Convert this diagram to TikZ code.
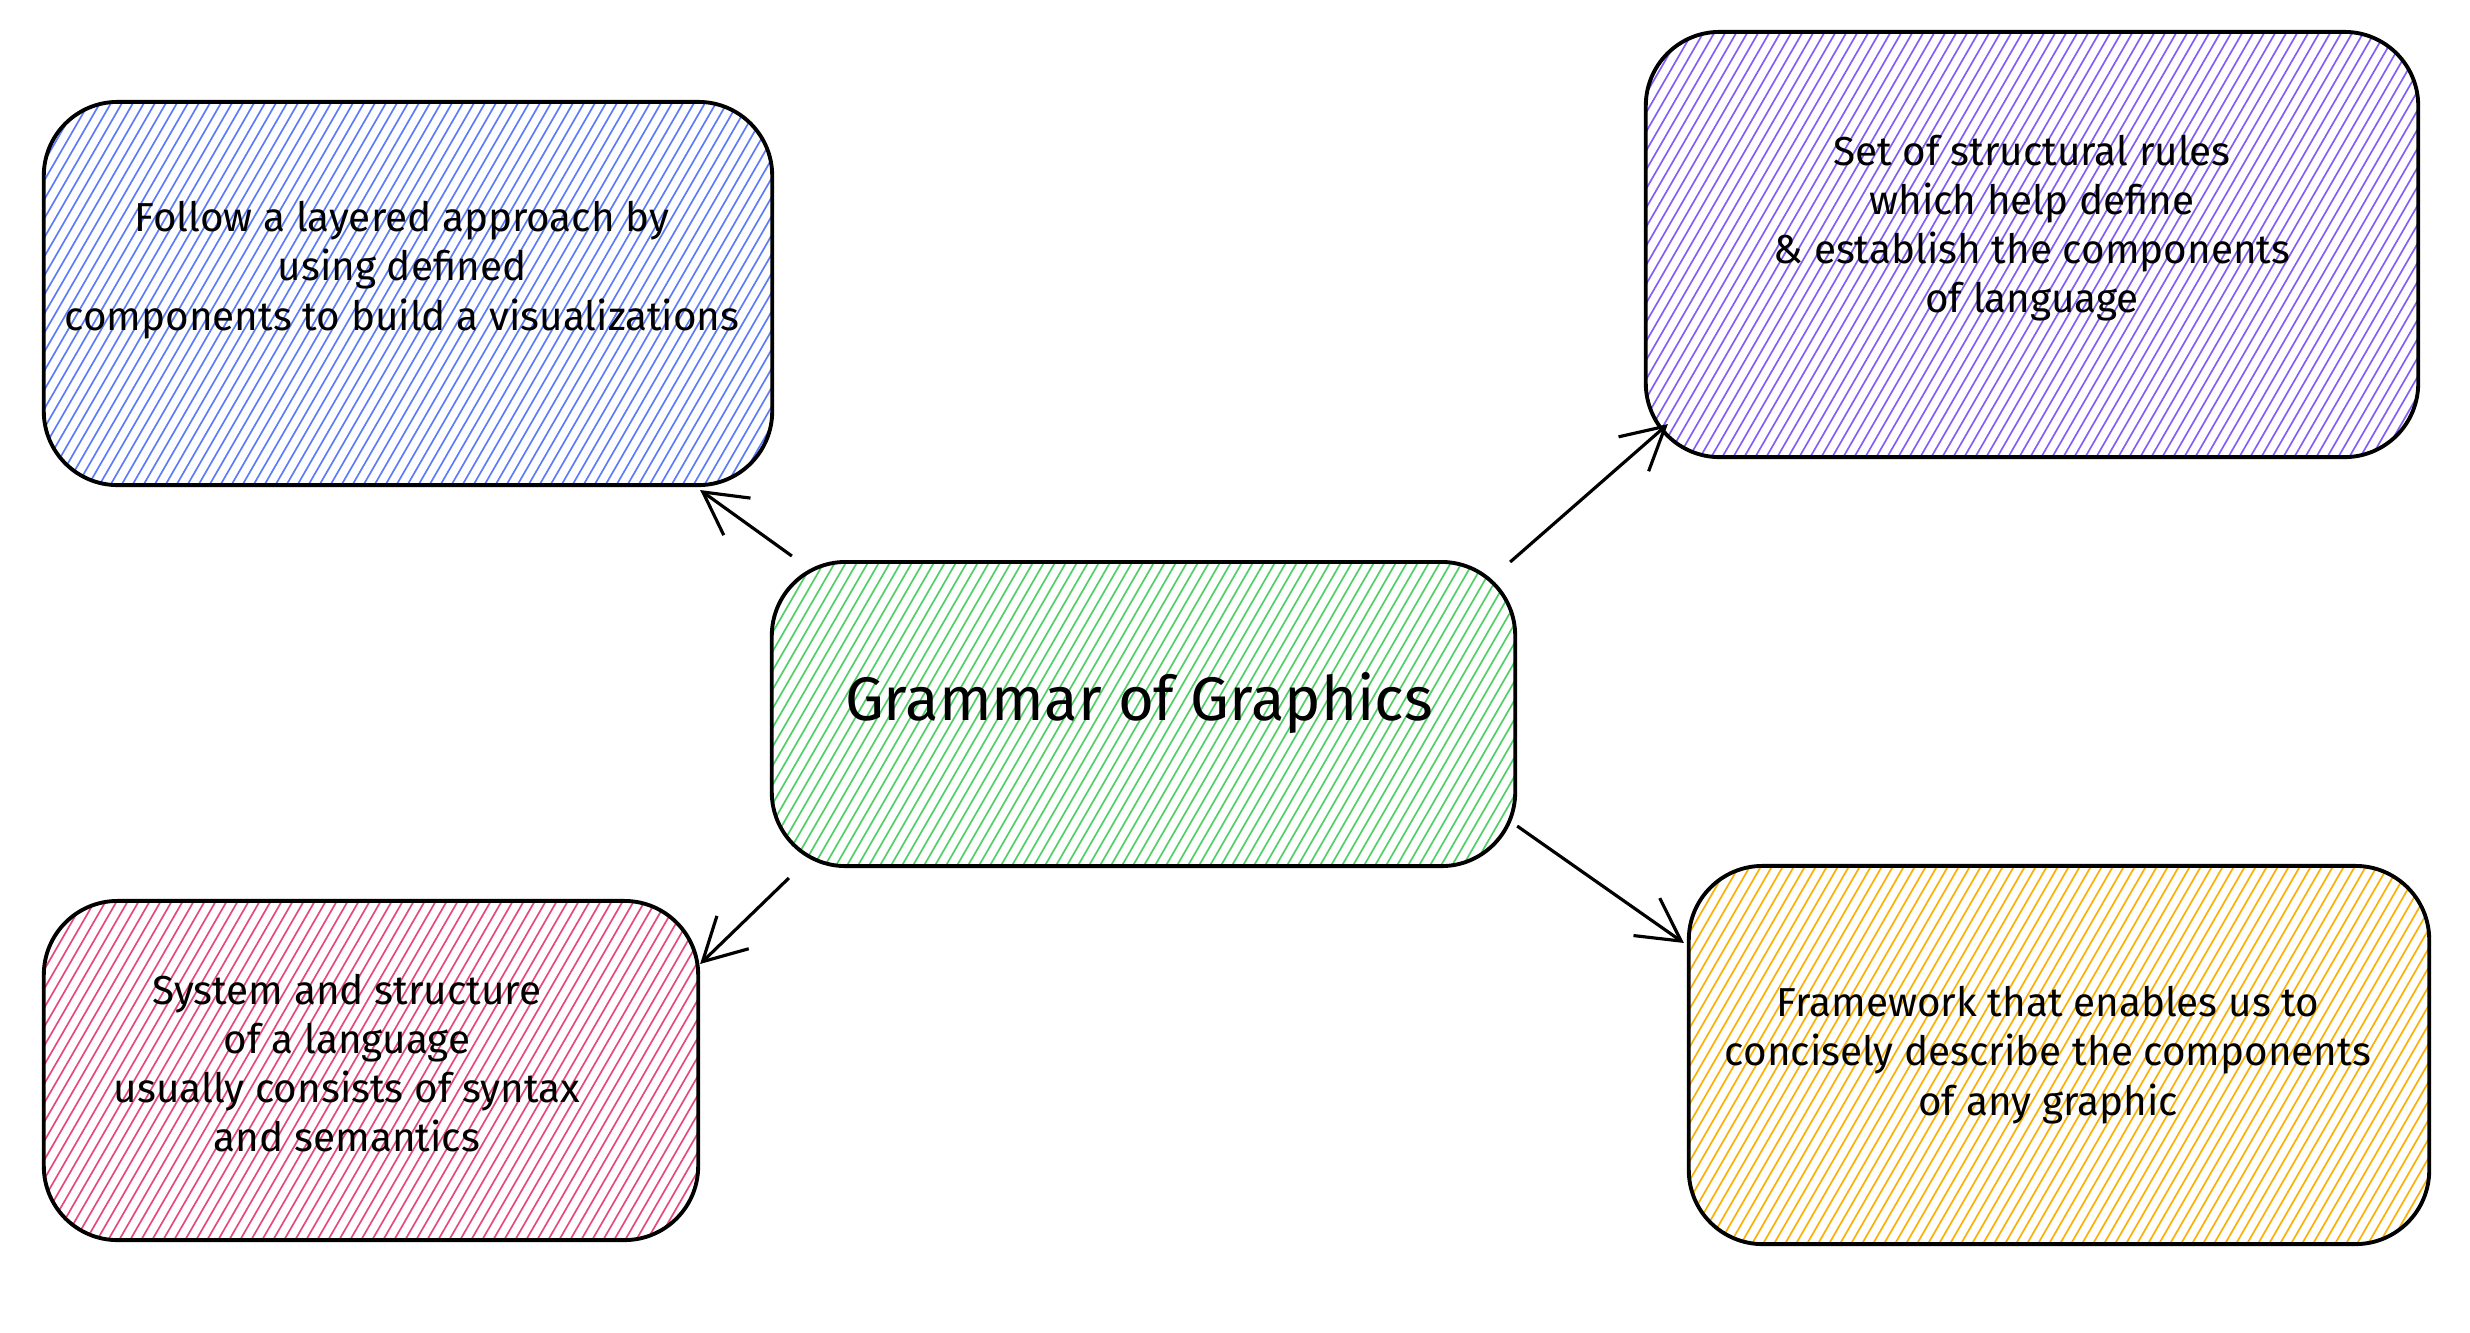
\documentclass[tikz,border=0pt]{standalone}
\usepackage{fontspec}
\setmainfont{Fira Sans}
\usetikzlibrary{arrows.meta}
\definecolor{hblue}{HTML}{5C7CFA}
\definecolor{hviolet}{HTML}{845EF7}
\definecolor{hgreen}{HTML}{51CF66}
\definecolor{hpink}{HTML}{E64980}
\definecolor{hyellow}{HTML}{FAB005}
\tikzset{
  x=0.01cm, y=-0.01cm,
  hatch/.style={path picture={
    \foreach \i in {-70,...,70}
      \draw[#1, line width=0.48pt]
        (path picture bounding box.center) ++(\i*11-175,303) -- ++(350,-606);
  }},
  card/.style={draw=black, line width=1.1pt, rounded corners=21pt,
    inner sep=0pt, hatch=#1},
  txt/.style={align=center, font=\fontsize{11.5}{14}\selectfont, inner sep=0pt},
  arr/.style={draw=black, line width=0.9pt,
    -{Straight Barb[length=12pt,width=13pt,line width=0.9pt]}},
}
\begin{document}
\begin{tikzpicture}
\useasboundingbox (0,0) rectangle (2470,1332);
\node[card=hblue, minimum width=7.28cm, minimum height=3.83cm] (blue) at (408,293.5) {};
\node[card=hviolet, minimum width=7.72cm, minimum height=4.25cm] (purple) at (2032,244.5) {};
\node[card=hgreen, minimum width=7.43cm, minimum height=3.04cm] (green) at (1143.5,714) {};
\node[card=hpink, minimum width=6.54cm, minimum height=3.39cm] (pink) at (371,1070.5) {};
\node[card=hyellow, minimum width=7.40cm, minimum height=3.78cm] (yellow) at (2059,1055) {};

\node[txt] (tblue) at (402,270) {Follow a layered approach by\\using defined\\components to build a visualizations};
\node[txt] (tpurple) at (2032,228) {Set of structural rules\\which help define\\\& establish the components\\of language};
\node[txt, font=\fontsize{17.5}{20}\selectfont] (tgreen) at (1139,703) {Grammar of Graphics};
\node[txt] (tpink) at (347,1063) {System and structure\\of a language\\usually consists of syntax\\and semantics};
\node[txt] (tyellow) at (2048,1055) {Framework that enables us to\\concisely describe the components\\of any graphic};

\draw[arr] ([shift={(22,-4)}]green.north west) -- ([shift={(-74,3)}]blue.south east);
\draw[arr] ([shift={(-7,2)}]green.north east) -- ([shift={(24,-35)}]purple.south west);
\draw[arr] ([shift={(19,10)}]green.south west) -- ([shift={(0,65)}]pink.north east);
\draw[arr] ([shift={(0,-42)}]green.south east) -- ([shift={(-3,79)}]yellow.north west);
\end{tikzpicture}
\end{document}
